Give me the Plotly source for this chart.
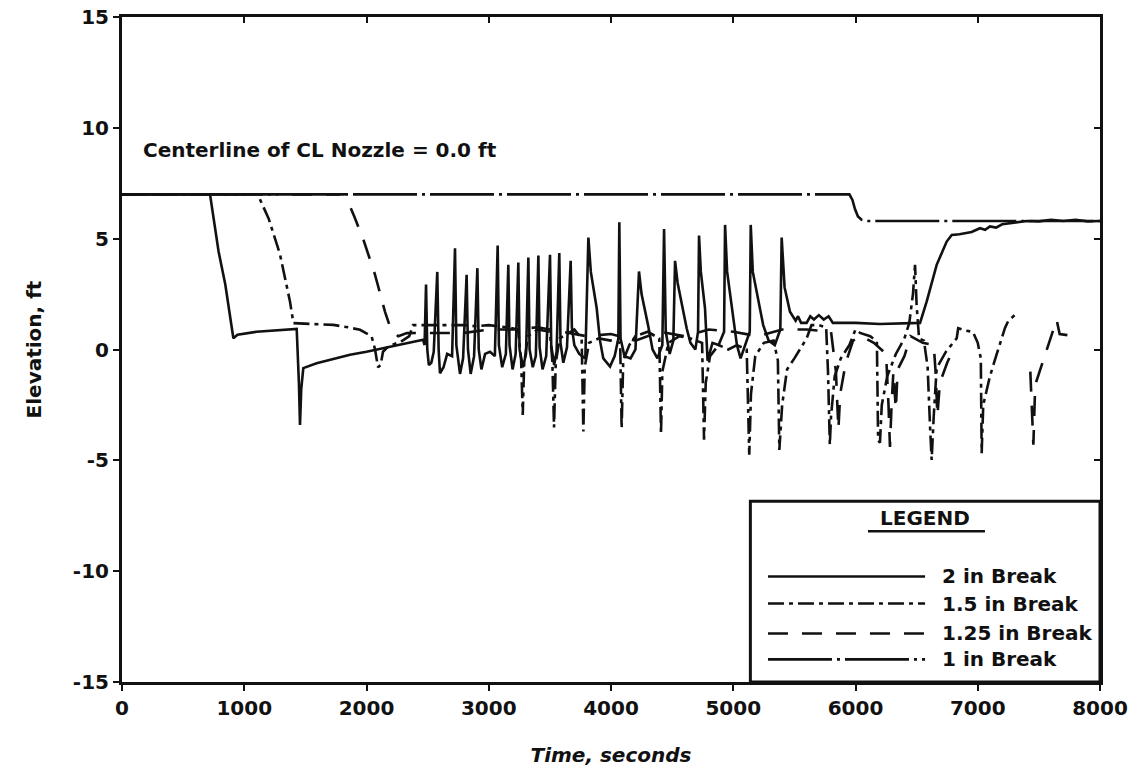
import plotly.graph_objects as go

# Collapsed liquid level in the downcomer, elevation (ft) versus time (s)
# for four cold-leg break sizes. Each list holds (time, elevation) pairs.
BREAK_2IN = [
    (0, 7.0), (720, 7.0), (790, 4.42), (845, 2.93), (911, 0.51), (945, 0.67), (1100, 0.8),
    (1292, 0.86), (1429, 0.93), (1447, -1.5), (1456, -3.4), (1466, -1.8), (1483, -0.84),
    (1592, -0.62), (1720, -0.45), (1865, -0.24), (2000, -0.1), (2138, 0.06), (2300, 0.25),
    (2463, 0.44), (2475, 0.2), (2487, 2.93), (2497, 0.0), (2510, -0.7), (2530, -0.6),
    (2550, -0.1), (2579, 3.5), (2590, 0.0), (2601, -1.07), (2630, -0.8), (2660, -0.2),
    (2700, -0.3), (2724, 4.57), (2735, 0.2), (2765, -1.1), (2790, -0.4), (2819, 3.37),
    (2830, 0.0), (2852, -1.1), (2880, -0.3), (2907, 3.67), (2918, 0.0), (2940, -0.9),
    (2970, -0.2), (3010, -0.1), (3050, -0.3), (3073, 4.69), (3083, 0.2), (3110, -0.8),
    (3140, -0.2), (3160, 3.82), (3170, 0.2), (3195, -0.9), (3220, -0.2), (3242, 3.92),
    (3252, 0.0), (3280, -0.8), (3305, -0.2), (3324, 4.15), (3334, 0.0), (3360, -0.8),
    (3385, -0.3), (3406, 4.24), (3416, 0.1), (3440, -0.9), (3470, -0.3), (3501, 4.27),
    (3511, 0.2), (3535, -0.7), (3555, -0.1), (3577, 4.35), (3587, 0.3), (3610, -0.6),
    (3640, 0.1), (3670, 4.0), (3680, 1.0), (3700, 0.2), (3740, -0.2), (3790, -0.4),
    (3815, 5.05), (3835, 3.5), (3883, 1.86), (3910, 0.4), (3937, -0.4), (3992, -0.77),
    (4030, -0.3), (4060, 0.5), (4068, 5.74), (4078, 0.5), (4110, -0.3), (4160, -0.4),
    (4200, 0.0), (4229, 3.52), (4250, 2.5), (4303, 1.1), (4340, 0.0), (4380, -0.4),
    (4420, 0.2), (4434, 5.44), (4448, 0.8), (4480, -0.2), (4510, 0.4), (4524, 4.0),
    (4545, 3.0), (4619, 0.96), (4650, 0.3), (4690, 0.0), (4712, 0.8), (4720, 5.14),
    (4735, 3.5), (4769, 1.86), (4790, -0.5), (4830, 0.3), (4880, 0.2), (4925, 0.8),
    (4933, 5.62), (4950, 3.5), (5000, 1.57), (5030, 0.2), (5060, -0.4), (5100, 0.3),
    (5135, 0.8), (5143, 5.62), (5160, 3.5), (5245, 1.1), (5290, 0.4), (5340, 0.2),
    (5385, 0.9), (5396, 5.05), (5420, 2.8), (5464, 1.7), (5490, 1.5), (5510, 1.3),
    (5530, 1.5), (5555, 1.2), (5600, 1.2), (5630, 1.5), (5660, 1.35), (5700, 1.55),
    (5740, 1.35), (5780, 1.5), (5815, 1.2), (6000, 1.2), (6200, 1.15), (6400, 1.2),
    (6528, 1.2), (6582, 2.16), (6664, 3.82), (6746, 4.87), (6787, 5.17), (6850, 5.2),
    (6900, 5.25), (6950, 5.3), (7018, 5.47), (7060, 5.4), (7100, 5.55), (7150, 5.5),
    (7200, 5.65), (7264, 5.7), (7330, 5.72), (7400, 5.8), (7500, 5.78), (7600, 5.85),
    (7700, 5.8), (7800, 5.85), (7900, 5.78), (8000, 5.8),
]

BREAK_1P5IN = [
    (0, 7.0), (1110, 7.0), (1200, 5.9), (1292, 4.3), (1374, 2.17), (1402, 1.19),
    (1550, 1.15), (1729, 1.11), (1850, 1.0), (1947, 0.89), (2042, 0.59), (2070, 0.0),
    (2094, -0.8), (2115, -0.7), (2135, -0.1), (2180, 0.15), (2280, 0.35), (2350, 0.6),
    (2380, 1.1), (2600, 1.11), (2800, 1.1), (2900, 1.05), (3000, 1.1), (3150, 1.0),
    (3240, 0.9), (3265, -0.5), (3278, -2.95), (3290, -0.6), (3320, 0.6), (3400, 0.9),
    (3500, 0.8), (3520, -0.5), (3534, -3.52), (3548, -0.6), (3580, 0.5), (3700, 0.9),
    (3760, 0.5), (3774, -3.7), (3785, -0.8), (3820, 0.3), (3900, 0.5), (4000, 0.4),
    (4075, 0.3), (4087, -3.55), (4100, -0.5), (4150, 0.2), (4200, 0.6), (4300, 0.8),
    (4395, 0.5), (4409, -3.82), (4420, -1.0), (4470, 0.3), (4560, 0.6), (4650, 0.5),
    (4745, 0.3), (4761, -4.07), (4775, -1.5), (4810, -0.3), (4880, 0.2), (4960, 0.0),
    (5030, 0.2), (5110, 0.0), (5131, -4.75), (5145, -2.0), (5180, -0.3), (5250, 0.3),
    (5330, 0.4), (5365, -0.5), (5377, -4.53), (5400, -2.5), (5440, -0.9), (5500, -0.4),
    (5600, 0.5), (5640, 1.1), (5700, 1.1), (5760, 1.0), (5775, -1.0), (5790, -4.3),
    (5800, -3.0), (5830, -1.2), (5880, -0.4), (5950, 0.2), (6000, 0.9), (6037, 0.75),
    (6120, 0.6), (6175, 0.36), (6185, -4.1), (6200, -4.2), (6215, -2.5), (6260, -1.2),
    (6330, -0.2), (6400, 0.5), (6440, 1.2), (6470, 2.5), (6487, 3.82), (6500, 2.0),
    (6520, 0.5), (6560, 0.4), (6590, -0.8), (6610, -3.5), (6623, -4.98), (6640, -3.0),
    (6664, -0.84), (6740, -0.1), (6828, 0.51), (6840, 0.96), (6900, 0.85), (6960, 0.8),
    (7000, 0.3), (7025, -0.4), (7032, -4.68), (7045, -2.5), (7100, -1.2), (7150, -0.3),
    (7222, 0.96), (7250, 1.3), (7305, 1.56),
]

BREAK_1P25IN = [
    (0, 7.0), (1824, 7.0), (1900, 6.0), (1975, 4.95), (2070, 3.37), (2151, 1.71),
    (2200, 0.9), (2260, 0.6), (2330, 0.74), (2600, 0.74), (2800, 0.75), (3000, 0.9),
    (3200, 0.9), (3400, 1.0), (3600, 0.8), (3800, 0.6), (4000, 0.7), (4200, 0.4),
    (4400, 0.8), (4600, 0.6), (4800, 0.9), (5000, 0.8), (5200, 0.6), (5400, 0.9),
    (5600, 0.9), (5800, 0.8), (5840, -1.0), (5860, -3.6), (5875, -2.0), (5920, -0.6),
    (5980, 0.4), (6050, 0.6), (6150, 0.3), (6250, -0.2), (6270, -2.5), (6282, -4.4),
    (6295, -2.5), (6310, -1.0), (6330, -2.7), (6345, -0.9), (6400, -0.3), (6450, 0.6),
    (6550, 0.3), (6640, 0.2), (6655, -1.0), (6670, -3.0), (6690, -1.5), (6750, -0.6),
    (6800, 0.0), (None, None), (7430, -1.0), (7455, -4.3), (7470, -1.6), (7540, -0.45),
    (7600, 0.6), (7645, 1.34), (7670, 0.7), (7795, 0.6),
]

BREAK_1IN = [
    (0, 7.0), (5950, 7.0), (5975, 6.75), (5995, 6.35), (6020, 6.0), (6050, 5.85),
    (6100, 5.8), (8000, 5.8),
]

SERIES = [
    ("2 in Break", BREAK_2IN, "solid"),
    ("1.5 in Break", BREAK_1P5IN, "16px,5px,4px,5px"),
    ("1.25 in Break", BREAK_1P25IN, "20px,14px"),
    ("1 in Break", BREAK_1IN, "64px,5px,3px,5px"),
]

X_TICKS = [0, 1000, 2000, 3000, 4000, 5000, 6000, 7000, 8000]
Y_TICKS = [-15, -10, -5, 0, 5, 10, 15]
Y_TICK_TEXT = ["-15", "-10", "-5", "0", "5", "10", "15"]

INK = "#111111"
FONT = "DejaVu Sans"

fig = go.Figure()
for name, pts, dash in SERIES:
    fig.add_trace(go.Scatter(
        x=[p[0] for p in pts], y=[p[1] for p in pts],
        mode="lines", name=name, showlegend=False, connectgaps=False,
        line=dict(color=INK, width=2.6, dash=dash),
    ))

# empty trace so the top/right tick-only axes get drawn
fig.add_trace(go.Scatter(x=[], y=[], xaxis="x2", yaxis="y2", showlegend=False))

axis_common = dict(showgrid=False, zeroline=False, linecolor=INK, linewidth=3,
                   ticks="outside", ticklen=6, tickwidth=2, tickcolor=INK, automargin=False,
                   tickfont=dict(family=FONT, size=20, color=INK, weight="bold"))

fig.update_layout(
    width=1137, height=767,
    margin=dict(l=122, r=37, t=17, b=85),
    paper_bgcolor="white", plot_bgcolor="white",
    font=dict(family=FONT, color=INK),
    xaxis=dict(range=[0, 8000], tickvals=X_TICKS, mirror=True,
               title=dict(text="<i>Time, seconds</i>",
                          font=dict(family=FONT, size=20, color=INK, weight="bold"), standoff=30),
               **axis_common),
    yaxis=dict(range=[-15, 15], tickvals=Y_TICKS, ticktext=Y_TICK_TEXT, mirror=True,
               title=dict(text="Elevation, ft",
                          font=dict(family=FONT, size=20, color=INK, weight="bold"), standoff=26),
               **axis_common),
    xaxis2=dict(overlaying="x", side="top", range=[0, 8000], tickvals=X_TICKS[1:-1],
                ticks="inside", ticklen=6, tickwidth=2, tickcolor=INK,
                showticklabels=False, showgrid=False, zeroline=False, showline=False),
    yaxis2=dict(overlaying="y", side="right", range=[-15, 15], tickvals=Y_TICKS[1:-1],
                ticks="inside", ticklen=6, tickwidth=2, tickcolor=INK,
                showticklabels=False, showgrid=False, zeroline=False, showline=False),
)

fig.add_annotation(x=155, y=9.0, xref="x", yref="y", xanchor="left", yanchor="middle",
                   text="Centerline of CL Nozzle = 0.0 ft", showarrow=False,
                   font=dict(family=FONT, size=20, color=INK, weight="bold"))

# legend panel in the lower-right corner of the plot
fig.add_shape(type="rect", xref="x", yref="y", x0=5140, x1=8000, y0=-15, y1=-6.85,
              line=dict(color=INK, width=3), fillcolor="white", layer="above")
fig.add_annotation(x=6569, y=-7.62, xref="x", yref="y", text="LEGEND", showarrow=False,
                   font=dict(family=FONT, size=20, color=INK, weight="bold"))
fig.add_shape(type="line", xref="x", yref="y", x0=6102, x1=7059, y0=-8.2, y1=-8.2,
              line=dict(color=INK, width=2.5), layer="above")
legend_rows = [-10.24, -11.46, -12.81, -13.98]
for (name, _, dash), yrow in zip(SERIES, legend_rows):
    fig.add_shape(type="line", xref="x", yref="y", x0=5284, x1=6569, y0=yrow, y1=yrow,
                  line=dict(color=INK, width=2.6, dash=dash), layer="above")
    fig.add_annotation(x=6691, y=yrow, xref="x", yref="y", xanchor="left", yanchor="middle",
                       text=name, showarrow=False,
                       font=dict(family=FONT, size=20, color=INK, weight="bold"))

fig.write_html("out.html")
